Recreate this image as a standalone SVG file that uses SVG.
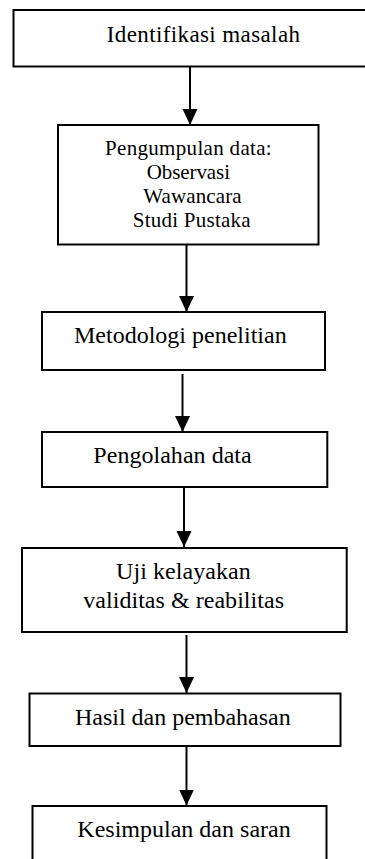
<svg xmlns="http://www.w3.org/2000/svg" width="365" height="859" viewBox="0 0 365 859">
<style>
.box{fill:#fff;stroke:#000;stroke-width:2}
.t{font-family:"Liberation Serif","Times New Roman",serif;font-size:24px;fill:#000}
.s{font-size:21px}
.c{stroke:#000;stroke-width:2;fill:none;marker-end:url(#ah)}
</style>
<defs>
<marker id="ah" markerUnits="userSpaceOnUse" markerWidth="17" markerHeight="16" refX="16" refY="7.5" orient="auto" viewBox="0 0 17 16">
<path d="M0,0 L16,7.5 L0,15 z" fill="#000"/>
</marker>
</defs>
<rect width="365" height="859" fill="#fff"/>
<g id="connectors">
<line class="c" x1="190" y1="67" x2="190" y2="125"/>
<line class="c" x1="186.5" y1="245" x2="186.5" y2="312"/>
<line class="c" x1="182.5" y1="374" x2="182.5" y2="432"/>
<line class="c" x1="184" y1="488" x2="184" y2="547"/>
<line class="c" x1="186.5" y1="635" x2="186.5" y2="693"/>
<line class="c" x1="186.5" y1="746" x2="186.5" y2="805.5"/>
</g>
<g id="n1">
<rect class="box" x="13.5" y="10" width="360" height="56.5"/>
<text class="t" style="font-size:23px" x="106.7" y="42" textLength="193.3" lengthAdjust="spacing">Identifikasi masalah</text>
</g>
<g id="n2">
<rect class="box" x="58" y="125" width="260.5" height="119.5"/>
<text class="t s" x="105" y="155" textLength="166.7" lengthAdjust="spacing">Pengumpulan data:</text>
<text class="t s" x="146.7" y="178.5" textLength="83.3" lengthAdjust="spacing">Observasi</text>
<text class="t s" x="143.3" y="203.3" textLength="98.4" lengthAdjust="spacing">Wawancara</text>
<text class="t s" x="132.7" y="227.3" textLength="118" lengthAdjust="spacing">Studi Pustaka</text>
</g>
<g id="n3">
<rect class="box" x="42" y="312" width="283" height="58"/>
<text class="t" x="74" y="342.7" textLength="212.7" lengthAdjust="spacing">Metodologi penelitian</text>
</g>
<g id="n4">
<rect class="box" x="42" y="432" width="285.3" height="55"/>
<text class="t" x="93.3" y="463.3" textLength="158.4" lengthAdjust="spacing">Pengolahan data</text>
</g>
<g id="n5">
<rect class="box" x="22" y="548" width="324.7" height="84"/>
<text class="t" x="116" y="579.3" textLength="134.7" lengthAdjust="spacing">Uji kelayakan</text>
<text class="t" x="83.3" y="608.3" textLength="200.7" lengthAdjust="spacing">validitas &amp; reabilitas</text>
</g>
<g id="n6">
<rect class="box" x="29.5" y="693.5" width="311" height="52.5"/>
<text class="t" x="75" y="725" textLength="215.7" lengthAdjust="spacing">Hasil dan pembahasan</text>
</g>
<g id="n7">
<rect class="box" x="32.5" y="806" width="294" height="70"/>
<text class="t" x="77.3" y="836.7" textLength="213.4" lengthAdjust="spacing">Kesimpulan dan saran</text>
</g>
</svg>
